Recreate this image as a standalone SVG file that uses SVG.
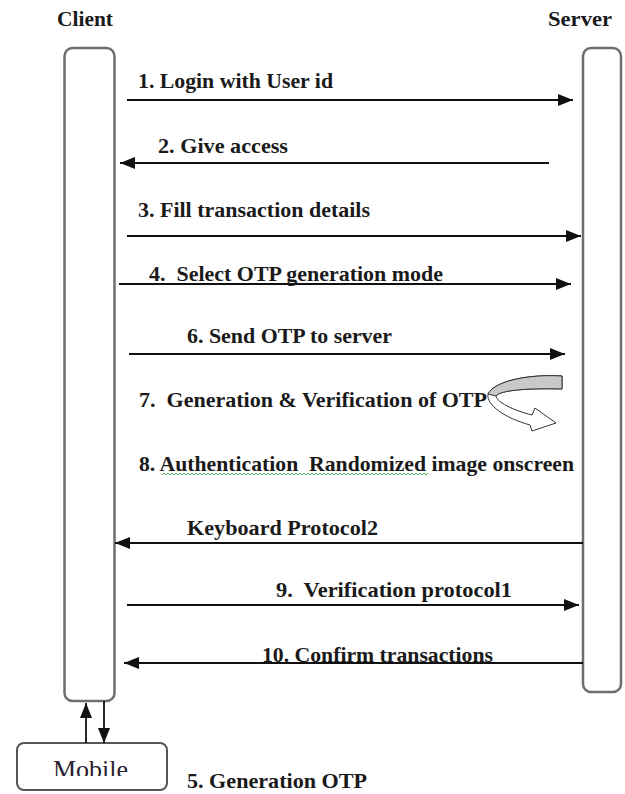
<svg xmlns="http://www.w3.org/2000/svg" width="625" height="794" viewBox="0 0 625 794">
  <defs>
    <style>
      .lbl { font-family: "Liberation Serif", "Times New Roman", serif; font-weight: bold; font-size: 22px; fill: #1a1a1a; }
      .pre { white-space: pre; }
      .life { fill: #ffffff; stroke: #6e6e6e; stroke-width: 2.5; }
      .msg { fill: none; stroke: #111111; stroke-width: 1.8; marker-end: url(#head); }
    </style>
    <marker id="head" markerUnits="userSpaceOnUse" markerWidth="15" markerHeight="12" refX="15" refY="6" orient="auto">
      <path d="M0,0 L15,6 L0,12 Z" fill="#111111"/>
    </marker>
    <pattern id="squiggle" patternUnits="userSpaceOnUse" x="162" y="472" width="4" height="4">
      <path d="M0,3 L2,1 L4,3" fill="none" stroke="#3aa23a" stroke-width="0.9"/>
    </pattern>
    <clipPath id="mobileClip">
      <rect x="17" y="743" width="150" height="33"/>
    </clipPath>
  </defs>

  <rect width="625" height="794" fill="#ffffff"/>

  <!-- participants -->
  <g id="client">
    <text class="lbl" x="57" y="26" textLength="56" lengthAdjust="spacingAndGlyphs">Client</text>
    <rect class="life" x="64.5" y="48" width="50" height="653" rx="8"/>
  </g>
  <g id="server">
    <text class="lbl" x="548" y="26" textLength="64" lengthAdjust="spacingAndGlyphs">Server</text>
    <rect class="life" x="583" y="48" width="38" height="644" rx="8"/>
  </g>
  <g id="mobile">
    <rect x="17" y="743" width="150" height="47" rx="7" fill="#ffffff" stroke="#555555" stroke-width="2"/>
    <text x="53" y="778" textLength="75" lengthAdjust="spacingAndGlyphs" clip-path="url(#mobileClip)" style="font-family:'Liberation Serif','Times New Roman',serif;font-size:26px;fill:#2a2030">Mobile</text>
  </g>

  <!-- messages -->
  <g id="connectors">
    <line class="msg" x1="127" y1="100" x2="573" y2="100"/>
    <line class="msg" x1="549" y1="163" x2="120" y2="163"/>
    <line class="msg" x1="127" y1="236" x2="581" y2="236"/>
    <line class="msg" x1="119" y1="284" x2="571" y2="284"/>
    <line class="msg" x1="129" y1="354" x2="565" y2="354"/>
    <line class="msg" x1="583" y1="543" x2="115" y2="543"/>
    <line class="msg" x1="127" y1="605" x2="579" y2="605"/>
    <line class="msg" x1="583" y1="663" x2="124" y2="663"/>
    <!-- client / mobile exchange -->
    <line class="msg" x1="86" y1="743" x2="86" y2="703"/>
    <line class="msg" x1="104" y1="701" x2="104" y2="743"/>
  </g>

  <!-- message labels -->
  <g id="labels">
    <text class="lbl" x="138" y="88" textLength="195" lengthAdjust="spacingAndGlyphs">1. Login with User id</text>
    <text class="lbl" x="158" y="153" textLength="130" lengthAdjust="spacingAndGlyphs">2. Give access</text>
    <text class="lbl" x="138" y="217" textLength="232" lengthAdjust="spacingAndGlyphs">3. Fill transaction details</text>
    <text class="lbl pre" x="149" y="281" textLength="294" lengthAdjust="spacingAndGlyphs">4.  Select OTP generation mode</text>
    <text class="lbl" x="187" y="343" textLength="205" lengthAdjust="spacingAndGlyphs">6. Send OTP to server</text>
    <text class="lbl pre" x="139" y="407" textLength="348" lengthAdjust="spacingAndGlyphs">7.  Generation &amp; Verification of OTP</text>
    <text class="lbl pre" x="139" y="471" textLength="435" lengthAdjust="spacingAndGlyphs">8. Authentication  Randomized image onscreen</text>
    <rect x="162" y="472" width="266" height="4" fill="url(#squiggle)"/>
    <text class="lbl" x="187" y="535" textLength="191" lengthAdjust="spacingAndGlyphs">Keyboard Protocol2</text>
    <text class="lbl pre" x="276" y="597" textLength="236" lengthAdjust="spacingAndGlyphs">9.  Verification protocol1</text>
    <text class="lbl" x="262" y="662" textLength="231" lengthAdjust="spacingAndGlyphs">10. Confirm transactions</text>
    <text class="lbl" x="187" y="788" textLength="180" lengthAdjust="spacingAndGlyphs">5. Generation OTP</text>
  </g>

  <!-- self-processing U-turn arrow for step 7 -->
  <g id="uturn" stroke="#333333" stroke-width="1" stroke-linejoin="round">
    <path d="M562,376 C532,374 495,380 488,394 C486,405 505,418 530,425 L532,431 L556,423 L535,408 L532,415 C512,410 497,402 496,396 C500,390 530,388 562,389 Z" fill="#ffffff"/>
    <path d="M562,376 C532,374 495,380 488,394 L496,396 C500,390 530,388 562,389 Z" fill="#c9c9c9"/>
  </g>
</svg>
